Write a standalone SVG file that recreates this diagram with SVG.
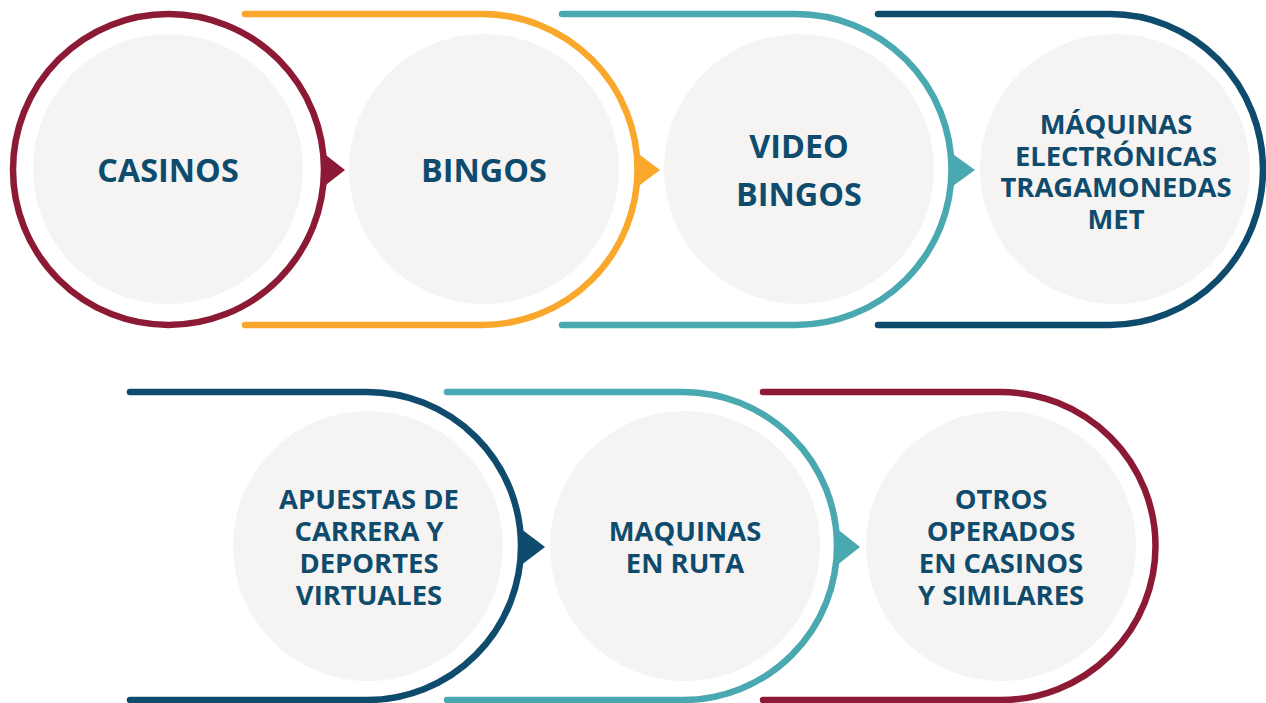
<svg xmlns="http://www.w3.org/2000/svg" width="1266" height="703" viewBox="0 0 1266 703">
<style>
.disc{fill:#F5F4F2}
.ring{fill:none;stroke-width:6.5;stroke-linecap:round}
.crimson{stroke:#8C1A35}.orange{stroke:#F9A82B}.teal{stroke:#4AA8B0}.navy{stroke:#0E4B6D}
.t{font-family:"Open Sans","Liberation Sans",sans-serif;font-weight:bold;fill:#0E4B6D;text-anchor:middle}
.big{font-size:32.4px}.sm{font-size:27.4px}
</style>
<rect width="1266" height="703" fill="#FFFFFF"/>
<g id="node-casinos">
<circle class="ring crimson" cx="168.5" cy="169.5" r="155.5"/>
<circle class="disc" cx="168" cy="169" r="135"/>
<text class="t big" x="168" y="182">CASINOS</text>
</g>
<g id="node-bingos">
<path class="ring orange" d="M245,14 H482 A155.5,155.5 0 0 1 482,325 H245"/>
<circle class="disc" cx="484" cy="169" r="135"/>
<text class="t big" x="484" y="182">BINGOS</text>
</g>
<g id="node-video-bingos">
<path class="ring teal" d="M562,14 H796 A155.5,155.5 0 0 1 796,325 H562"/>
<circle class="disc" cx="799" cy="169" r="135"/>
<text class="t big" x="799" y="158">VIDEO<tspan x="799" dy="48">BINGOS</tspan></text>
</g>
<g id="node-met">
<path class="ring navy" d="M878,14 H1110 A153,155.5 0 0 1 1110,325 H878"/>
<circle class="disc" cx="1115" cy="169" r="135"/>
<text class="t sm" x="1116" y="134">MÁQUINAS<tspan x="1116" dy="31.7">ELECTRÓNICAS</tspan><tspan x="1116" dy="31.7">TRAGAMONEDAS</tspan><tspan x="1116" dy="31.7">MET</tspan></text>
</g>
<g id="node-apuestas">
<path class="ring navy" d="M130,392 H367 A154,154 0 0 1 367,700 H130"/>
<circle class="disc" cx="368" cy="546" r="135"/>
<text class="t sm" x="369" y="509">APUESTAS DE<tspan x="369" dy="32">CARRERA Y</tspan><tspan x="369" dy="32">DEPORTES</tspan><tspan x="369" dy="32">VIRTUALES</tspan></text>
</g>
<g id="node-maquinas-ruta">
<path class="ring teal" d="M447,392 H683 A154,154 0 0 1 683,700 H447"/>
<circle class="disc" cx="685" cy="546" r="135"/>
<text class="t sm" x="685" y="541">MAQUINAS<tspan x="685" dy="32">EN RUTA</tspan></text>
</g>
<g id="node-otros">
<path class="ring crimson" d="M763,392 H1001 A154.5,154 0 0 1 1001,700 H763"/>
<circle class="disc" cx="1001" cy="546" r="135"/>
<text class="t sm" x="1001" y="509">OTROS<tspan x="1001" dy="32">OPERADOS</tspan><tspan x="1001" dy="32">EN CASINOS</tspan><tspan x="1001" dy="32">Y SIMILARES</tspan></text>
</g>
<g id="connectors">
<polygon fill="#8C1A35" points="322,152 345,170 322,188"/>
<polygon fill="#F9A82B" points="636,152 660,170 636,188"/>
<polygon fill="#4AA8B0" points="950,152 975,170 950,188"/>
<polygon fill="#0E4B6D" points="520,528 545,547 520,566"/>
<polygon fill="#4AA8B0" points="836,528 860,547 836,566"/>
</g>
</svg>
